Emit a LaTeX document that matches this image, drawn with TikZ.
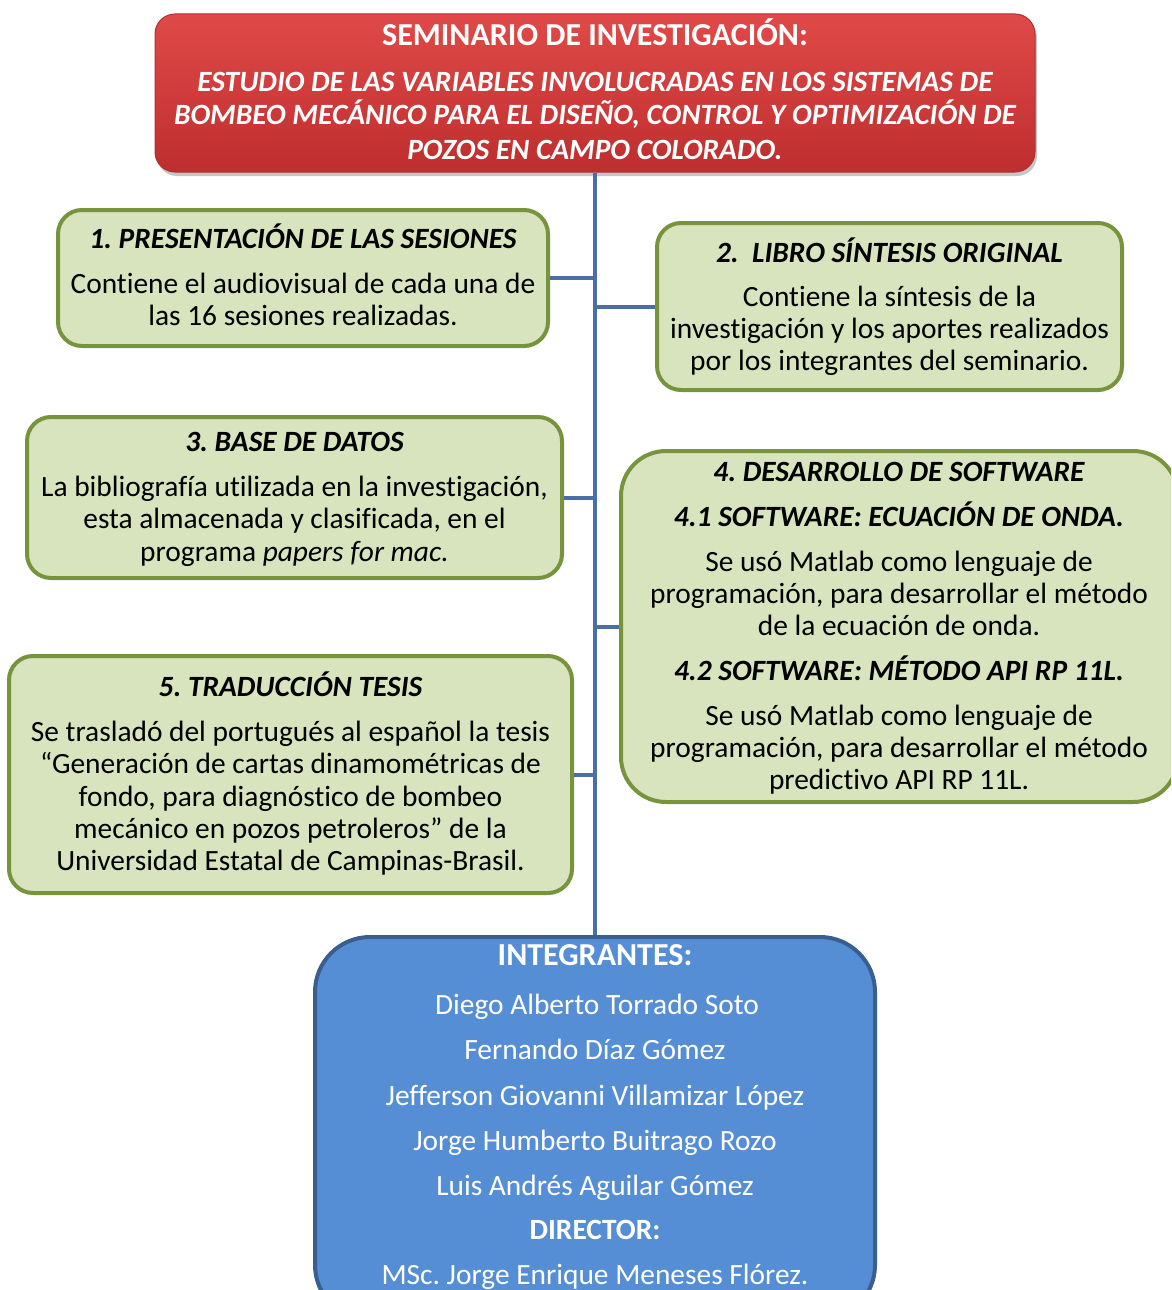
\documentclass[tikz,border=0pt]{standalone}
\usepackage{fontspec}
\setmainfont[Ligatures={NoCommon,NoContextual}]{Carlito}
\usetikzlibrary{shadows}
\definecolor{gfill}{HTML}{D7E4BD}
\definecolor{gline}{HTML}{77933C}
\definecolor{conncol}{HTML}{4A6EA6}
\definecolor{bfill}{HTML}{558ED5}
\definecolor{bline}{HTML}{3A5F8E}
\definecolor{rtop}{HTML}{E04A48}
\definecolor{rbot}{HTML}{BE2E2E}
\definecolor{rline}{HTML}{B03030}
\newcommand\bsz{\fontsize{29.4}{32}\selectfont}
\newcommand\tsz{\fontsize{32}{36}\selectfont}
\tikzset{
  gbox/.style={draw=gline, fill=gfill, line width=4pt, rounded corners=24pt, inner sep=0pt},
  rbox/.style={draw=rline, top color=rtop, bottom color=rbot, line width=1pt, rounded corners=20pt, inner sep=0pt,
     drop shadow={shadow xshift=2pt, shadow yshift=-4pt, opacity=0.45}},
  bbox/.style={draw=bline, fill=bfill, line width=4pt, rounded corners=55pt, inner sep=0pt},
  conn/.style={draw=conncol, line width=4pt},
  txt/.style={anchor=base, inner sep=0pt, font=\bsz},
  hd/.style={txt, font=\bsz\bfseries\itshape},
  wtxt/.style={txt, text=white},
  whd/.style={txt, text=white, font=\bsz\bfseries},
  wtit/.style={txt, text=white, font=\tsz\bfseries},
  whdi/.style={txt, text=white, font=\bsz\bfseries\itshape},
}
\begin{document}
\frenchspacing
\begin{tikzpicture}[x=1pt,y=-1pt]
\useasboundingbox (0,0) rectangle (1171,1290);
\clip (0,0) rectangle (1171,1290);
% boxes
\node[rbox, minimum width=880pt, minimum height=158pt] (red) at (595,93) {};
\node[bbox, minimum width=560pt, minimum height=383pt] (blue) at (595,1128.5) {};
% spine
\draw[conn] (red.south) -- (blue.north);
\node[gbox, minimum width=490pt, minimum height=136pt] (b1) at (303,278) {};
\node[gbox, minimum width=465pt, minimum height=167pt] (b2) at (889.5,306.5) {};
\node[gbox, minimum width=535pt, minimum height=161pt] (b3) at (294.5,497.5) {};
\node[gbox, rounded corners=45pt, minimum width=557pt, minimum height=351pt] (b4) at (899.5,626.5) {};
\node[gbox, minimum width=563pt, minimum height=237pt] (b5) at (290.5,774.5) {};
% connectors
\draw[conn] (b1.east) -- (b1.east -| red.south);
\draw[conn] (b2.west) -- (b2.west -| red.south);
\draw[conn] (b3.east) -- (b3.east -| red.south);
\draw[conn] (b4.west) -- (b4.west -| red.south);
\draw[conn] (b5.east) -- (b5.east -| red.south);
% red box text
\node[wtit] (r1) at (595,46) {SEMINARIO DE INVESTIGACIÓN:};
\node[whdi] (r2) at (595,92) {ESTUDIO DE LAS VARIABLES INVOLUCRADAS EN LOS SISTEMAS DE};
\node[whdi] (r3) at (595,124) {BOMBEO MECÁNICO PARA EL DISEÑO, CONTROL Y OPTIMIZACIÓN DE};
\node[whdi] (r4) at (595,159) {POZOS EN CAMPO COLORADO.};
% box 1
\node[hd] (t1h) at (303,248) {1. PRESENTACIÓN DE LAS SESIONES};
\node[txt] (t1a) at (303,293) {Contiene el audiovisual de cada una de};
\node[txt] (t1b) at (303,325) {las 16 sesiones realizadas.};
% box 2
\node[hd] (t2h) at (889.5,262) {2.\ \ LIBRO SÍNTESIS ORIGINAL};
\node[txt] (t2a) at (889.5,306) {Contiene la síntesis de la};
\node[txt] (t2b) at (889.5,338) {investigación y los aportes realizados};
\node[txt] (t2c) at (889.5,370) {por los integrantes del seminario.};
% box 3
\node[hd] (t3h) at (294.5,451) {3. BASE DE DATOS};
\node[txt] (t3a) at (294.5,496) {La bibliografía utilizada en la investigación,};
\node[txt] (t3b) at (294.5,528) {esta almacenada y clasificada, en el};
\node[txt] (t3c) at (294.5,561) {programa \textit{papers for mac.}};
% box 4
\node[hd] (t4h) at (899,481) {4. DESARROLLO DE SOFTWARE};
\node[hd] (t4s1) at (899,526) {4.1 SOFTWARE: ECUACIÓN DE ONDA.};
\node[txt] (t4a) at (899,571) {Se usó Matlab como lenguaje de};
\node[txt] (t4b) at (899,603) {programación, para desarrollar el método};
\node[txt] (t4c) at (899,635) {de la ecuación de onda.};
\node[hd] (t4s2) at (899,680) {4.2 SOFTWARE: MÉTODO API RP 11L.};
\node[txt] (t4d) at (899,725) {Se usó Matlab como lenguaje de};
\node[txt] (t4e) at (899,757) {programación, para desarrollar el método};
\node[txt] (t4f) at (899,789) {predictivo API RP 11L.};
% box 5
\node[hd] (t5h) at (290.5,696) {5. TRADUCCIÓN TESIS};
\node[txt] (t5a) at (290.5,741) {Se trasladó del portugués al español la tesis};
\node[txt] (t5b) at (290.5,773) {“Generación de cartas dinamométricas de};
\node[txt] (t5c) at (290.5,806) {fondo, para diagnóstico de bombeo};
\node[txt] (t5d) at (290.5,838) {mecánico en pozos petroleros” de la};
\node[txt] (t5e) at (290.5,870) {Universidad Estatal de Campinas-Brasil.};
% blue box text
\node[wtit] (i0) at (595,965) {INTEGRANTES:};
\node[wtxt] (i1) at (597,1014) {Diego Alberto Torrado Soto};
\node[wtxt] (i2) at (595,1059) {Fernando Díaz Gómez};
\node[wtxt] (i3) at (595,1105) {Jefferson Giovanni Villamizar López};
\node[wtxt] (i4) at (595,1150) {Jorge Humberto Buitrago Rozo};
\node[wtxt] (i5) at (595,1195) {Luis Andrés Aguilar Gómez};
\node[whd] (d0) at (595,1239) {DIRECTOR:};
\node[wtxt] (d1) at (595,1284) {MSc. Jorge Enrique Meneses Flórez.};
\end{tikzpicture}
\end{document}
